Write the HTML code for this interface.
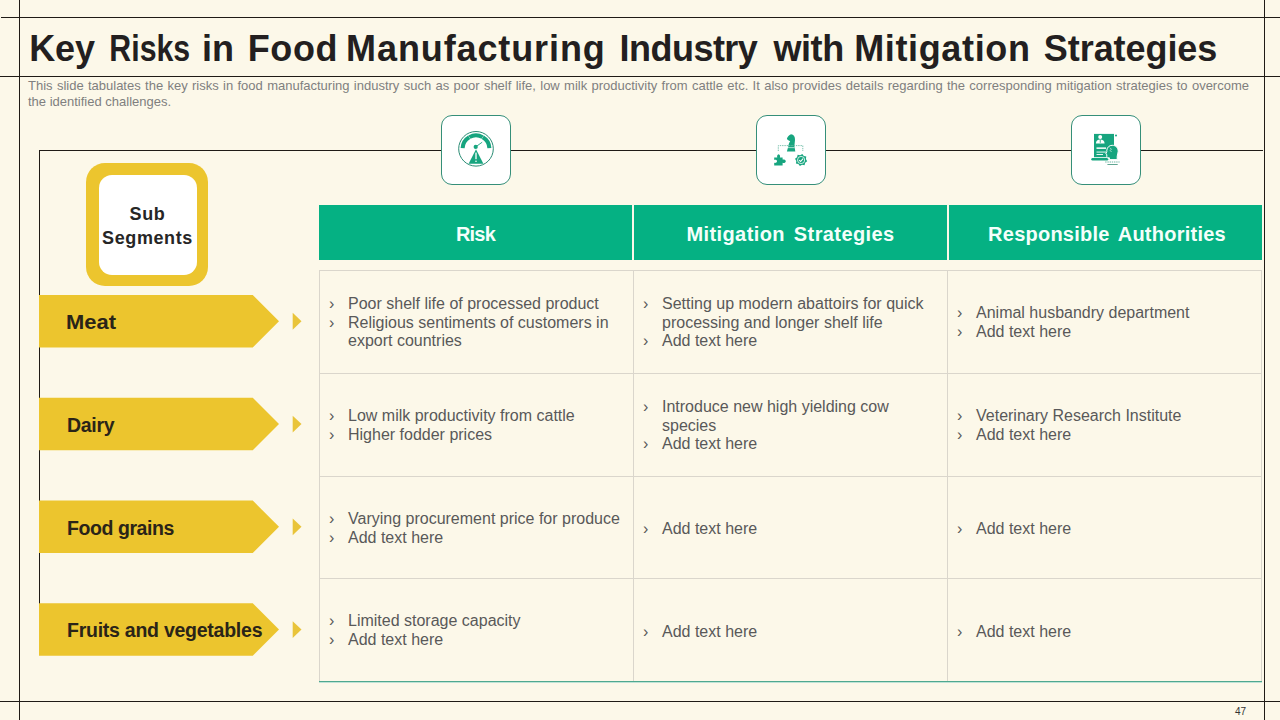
<!DOCTYPE html>
<html>
<head>
<meta charset="utf-8">
<style>
*{margin:0;padding:0;box-sizing:border-box;}
html,body{width:1280px;height:720px;overflow:hidden;background:#FCF8E9;}
body{position:relative;font-family:"Liberation Sans",sans-serif;}
.ln{position:absolute;background:#1F1B16;}
.title{position:absolute;left:0;top:25.5px;width:1280px;height:46px;font-size:36px;font-weight:bold;color:#231F20;white-space:nowrap;line-height:46px;}
.title span{position:absolute;top:0;}
.desc{position:absolute;left:28px;top:78px;width:1221px;font-size:13px;color:#7F7F7F;line-height:15.5px;}
.desc .l1{text-align:justify;text-align-last:justify;white-space:nowrap;}
.pg{position:absolute;left:1235px;top:706px;font-size:10px;color:#333;}
.iconbox{position:absolute;top:115px;width:70px;height:70px;border:1.3px solid #358F79;border-radius:11px;background:#FFFFFF;}
.iconbox svg{position:absolute;left:0;top:0;}
.hdr{position:absolute;top:205px;height:55px;padding-top:4px;background:#05B183;color:#F4FFFB;font-weight:bold;font-size:20px;display:flex;align-items:center;justify-content:center;white-space:nowrap;}
.cell{position:absolute;display:flex;align-items:center;color:#595959;font-size:16px;line-height:18.9px;padding-top:2px;}
.cell ul{list-style:none;}
.cell li{position:relative;padding-left:29px;}
.cell li:before{content:"\203A";position:absolute;left:10px;top:0;}
.vl{position:absolute;background:#DAD6CC;}
.bar{position:absolute;left:39px;width:240px;height:52.5px;}
.bar span{position:absolute;left:28px;top:1px;line-height:52.5px;font-size:19.5px;font-weight:bold;color:#2A2418;white-space:nowrap;}
.tri{position:absolute;width:0;height:0;border-top:8.5px solid transparent;border-bottom:8.5px solid transparent;border-left:9px solid #E9C43A;}
.seg{position:absolute;left:86px;top:163px;width:122px;height:123px;background:#ECC52E;border-radius:19px;}
.seg .in{position:absolute;left:12.5px;top:11.5px;width:98px;height:100px;background:#FFFFFF;border-radius:13px;display:flex;align-items:center;justify-content:center;text-align:center;font-size:18px;font-weight:bold;color:#262626;line-height:23.5px;letter-spacing:0.6px;padding-top:4px;}
</style>
</head>
<body>
<!-- frame lines -->
<div class="ln" style="left:1px;top:17px;width:1279px;height:1px;"></div>
<div class="ln" style="left:0;top:76px;width:1280px;height:1px;"></div>
<div class="ln" style="left:0;top:701px;width:1280px;height:1px;"></div>
<div class="ln" style="left:19px;top:0;width:1px;height:720px;"></div>
<div class="ln" style="left:1264px;top:0;width:1px;height:720px;"></div>
<div class="ln" style="left:39px;top:150px;width:1224px;height:1px;"></div>
<div class="ln" style="left:39px;top:150px;width:1px;height:500px;"></div>

<div class="title"><span style="left:29.2px;letter-spacing:-0.12px;">Key</span><span style="left:108.6px;transform:scaleX(0.842);transform-origin:2px 0;">Risks</span><span style="left:201.9px;letter-spacing:0.20px;">in</span><span style="left:247.7px;letter-spacing:0.63px;">Food</span><span style="left:346.1px;letter-spacing:0.89px;">Manufacturing</span><span style="left:619.6px;letter-spacing:-0.54px;">Industry</span><span style="left:773.4px;letter-spacing:-0.40px;">with</span><span style="left:854.2px;letter-spacing:0.64px;">Mitigation</span><span style="left:1043.8px;letter-spacing:-0.06px;">Strategies</span></div>
<div class="desc"><div class="l1">This slide tabulates the key risks in food manufacturing industry such as poor shelf life, low milk productivity from cattle etc. It also provides details regarding the corresponding mitigation strategies to overcome</div><div>the identified challenges.</div></div>


<div class="iconbox" style="left:441px;"></div>
<div class="iconbox" style="left:756px;"></div>
<div class="iconbox" style="left:1071px;"></div>
<svg style="position:absolute;left:0;top:0;" width="1280" height="200"><g fill="#17A57F">
<circle cx="476" cy="148.8" r="17.3" fill="none" stroke="#2A8C74" stroke-width="1"/>
<path d="M491.38,147.99 A15.4,15.4 0 0,0 483.84,135.54 L481.80,138.99 A11.4,11.4 0 0,1 487.38,148.20 Z"/><path d="M483.56,135.38 A15.4,15.4 0 0,0 468.44,135.38 L470.40,138.87 A11.4,11.4 0 0,1 481.60,138.87 Z"/><path d="M468.16,135.54 A15.4,15.4 0 0,0 460.62,147.99 L464.62,148.20 A11.4,11.4 0 0,1 470.20,138.99 Z"/>
<circle cx="475.7" cy="146.9" r="2.1"/>
<line x1="475.7" y1="146.9" x2="482.2" y2="142.2" stroke="#17A57F" stroke-width="0.9"/>
<polygon points="476,149.3 483.4,163.8 468.6,163.8"/>
<rect x="475.35" y="152.6" width="1.3" height="6.6" fill="#FFFFFF"/>
<rect x="475.35" y="160.6" width="1.3" height="1.4" fill="#FFFFFF"/>
</g><g fill="#17A57F">
<path d="M791,134.2 C793.8,134.6 795.2,136.8 795,140 L794.4,146 L795.3,151.4 L786.9,151.4 L788.4,146 C788.6,144 789.2,142.6 790.2,141.2 C789.4,140.6 788.2,140.2 787.5,139.8 L786.9,138.4 C787.6,136.8 789,135.2 791,134.2 Z"/>
<rect x="787.6" y="147.3" width="7" height="0.8" fill="#FFFFFF" opacity="0.8"/>
<path d="M778.3,151 L778.3,145.6 L802.8,145.6 L802.8,151" fill="none" stroke="#6DBBA6" stroke-width="0.9" stroke-dasharray="1.4,0.9"/>
<path d="M774.2,157.5 L777.3,157.5 C776.8,156.6 777.2,154.2 778.6,154.2 C780,154.2 780.4,156.6 779.9,157.5 L782.6,157.5 L782.6,159.6 C783.4,159.1 785.8,159.4 785.8,161.2 C785.8,163 783.4,163.2 782.6,162.7 L782.6,165.6 L774.2,165.6 L774.2,162.8 C775.2,163.1 777,162.8 777,161.3 C777,159.8 775.2,159.5 774.2,159.9 Z"/>
<polygon points="807.18,161.21 805.17,162.72 804.54,165.16 802.06,164.81 799.89,166.08 798.38,164.07 795.94,163.44 796.29,160.96 795.02,158.79 797.03,157.28 797.66,154.84 800.14,155.19 802.31,153.92 803.82,155.93 806.26,156.56 805.91,159.04" fill="#17A57F"/><circle cx="801.1" cy="160" r="3.6" fill="none" stroke="#FFFFFF" stroke-width="0.8"/><path d="M799.2,160.1 L800.6,161.5 L803.1,158.6" fill="none" stroke="#FFFFFF" stroke-width="1.1"/></g><g fill="#17A57F">
<rect x="1094" y="133.9" width="20" height="23.3"/>
<circle cx="1116" cy="135.6" r="1" />
<rect x="1091.3" y="158" width="17" height="2.4" rx="1.2"/>
<circle cx="1100.2" cy="136.9" r="2" fill="#FFFFFF"/>
<path d="M1095.9,143.6 C1095.9,140.9 1097.6,139.6 1100.2,139.6 C1102.8,139.6 1104.6,140.9 1104.6,143.6 Z" fill="#FFFFFF"/>
<rect x="1099.8" y="139.6" width="0.8" height="3.2" fill="#17A57F"/>
<rect x="1096.5" y="147.4" width="9.5" height="1.5" fill="#FFFFFF"/>
<rect x="1096.5" y="151.6" width="9.5" height="0.9" fill="#FFFFFF"/>
<rect x="1096.5" y="154.1" width="6.5" height="0.9" fill="#FFFFFF"/>
<path d="M1112.2,145.3 C1115.8,145.3 1118.2,147.8 1118.2,151.2 C1118.2,153.4 1117.2,154.6 1117.2,156.3 L1117.2,159.6 L1109.4,159.6 L1109.4,157.8 L1107.6,157.8 C1107,157.8 1106.8,157.4 1106.8,156.8 L1106.8,154.6 L1105.8,153.9 L1106.8,151.6 L1106.8,150.2 C1107.2,147.2 1109.3,145.3 1112.2,145.3 Z" stroke="#FFFFFF" stroke-width="1"/>
<path d="M1110,147.8 L1111.4,149.2 L1110.2,150.6 L1111.6,152" fill="none" stroke="#FFFFFF" stroke-width="0.6"/>
<path d="M1105.2,162 L1119.6,162" stroke="#5FAF98" stroke-width="0.9" stroke-dasharray="1.4,0.8"/>
<rect x="1107.4" y="164" width="10.3" height="0.9" fill="#4F9C86"/>
</g></svg>

<div class="hdr" style="left:319px;width:313px;letter-spacing:-0.8px;">Risk</div>
<div class="hdr" style="left:634px;width:313px;letter-spacing:0.40px;word-spacing:3px;">Mitigation Strategies</div>
<div class="hdr" style="left:949px;width:313px;letter-spacing:0.24px;word-spacing:3px;padding-left:3px;">Responsible Authorities</div>

<!-- grid -->
<div class="vl" style="left:319px;top:270px;width:943px;height:1px;"></div>
<div class="vl" style="left:319px;top:373px;width:943px;height:1px;"></div>
<div class="vl" style="left:319px;top:476px;width:943px;height:1px;"></div>
<div class="vl" style="left:319px;top:578px;width:943px;height:1px;"></div>
<div class="vl" style="left:319px;top:270px;width:1px;height:411px;"></div>
<div class="vl" style="left:633px;top:270px;width:1px;height:411px;"></div>
<div class="vl" style="left:947px;top:270px;width:1px;height:411px;"></div>
<div class="vl" style="left:1261px;top:270px;width:1px;height:411px;"></div>
<div style="position:absolute;left:319px;top:681px;width:943px;height:1px;background:#4FA88F;"></div><div style="position:absolute;left:319px;top:682px;width:943px;height:1px;background:#BFE3D6;"></div>

<div class="cell" style="left:319px;top:271px;width:314px;height:102px;"><ul><li>Poor shelf life of processed product</li><li>Religious sentiments of customers in export countries</li></ul></div>
<div class="cell" style="left:633px;top:271px;width:314px;height:102px;"><ul><li>Setting up modern abattoirs for quick processing and longer shelf life</li><li>Add text here</li></ul></div>
<div class="cell" style="left:947px;top:271px;width:314px;height:102px;"><ul><li>Animal husbandry department</li><li>Add text here</li></ul></div>

<div class="cell" style="left:319px;top:374px;width:314px;height:102px;"><ul><li>Low milk productivity from cattle</li><li>Higher fodder prices</li></ul></div>
<div class="cell" style="left:633px;top:374px;width:314px;height:102px;"><ul><li>Introduce new high yielding cow species</li><li>Add text here</li></ul></div>
<div class="cell" style="left:947px;top:374px;width:314px;height:102px;"><ul><li>Veterinary Research Institute</li><li>Add text here</li></ul></div>

<div class="cell" style="left:319px;top:477px;width:314px;height:101px;"><ul><li>Varying procurement price for produce</li><li>Add text here</li></ul></div>
<div class="cell" style="left:633px;top:477px;width:314px;height:101px;padding-top:4px;"><ul><li>Add text here</li></ul></div>
<div class="cell" style="left:947px;top:477px;width:314px;height:101px;padding-top:4px;"><ul><li>Add text here</li></ul></div>

<div class="cell" style="left:319px;top:579px;width:314px;height:102px;"><ul><li>Limited storage capacity</li><li>Add text here</li></ul></div>
<div class="cell" style="left:633px;top:579px;width:314px;height:102px;padding-top:4px;"><ul><li>Add text here</li></ul></div>
<div class="cell" style="left:947px;top:579px;width:314px;height:102px;padding-top:4px;"><ul><li>Add text here</li></ul></div>

<!-- sub segments -->
<div class="seg"><div class="in">Sub<br>Segments</div></div>

<svg style="position:absolute;left:0;top:0;" width="320" height="720">
<polygon points="39,295 252.75,295 279,321.25 252.75,347.50 39,347.50" fill="#ECC52E"/>
<polygon points="39,397.8 252.75,397.8 279,424.05 252.75,450.30 39,450.30" fill="#ECC52E"/>
<polygon points="39,500.6 252.75,500.6 279,526.85 252.75,553.10 39,553.10" fill="#ECC52E"/>
<polygon points="39,603.3 252.75,603.3 279,629.55 252.75,655.80 39,655.80" fill="#ECC52E"/>
<polygon points="292.7,312.85 301.5,321.25 292.7,329.65" fill="#E9C43A"/>
<polygon points="292.7,415.65 301.5,424.05 292.7,432.45" fill="#E9C43A"/>
<polygon points="292.7,518.45 301.5,526.85 292.7,535.25" fill="#E9C43A"/>
<polygon points="292.7,621.15 301.5,629.55 292.7,637.95" fill="#E9C43A"/>
</svg>
<div class="bar" style="top:295px;"><span style="transform:scaleX(1.125);transform-origin:0 0;left:26.6px;">Meat</span></div>
<div class="bar" style="top:397.8px;"><span style="letter-spacing:-0.3px">Dairy</span></div>
<div class="bar" style="top:500.6px;"><span style="letter-spacing:-0.43px">Food grains</span></div>
<div class="bar" style="top:603.3px;"><span style="letter-spacing:-0.25px">Fruits and vegetables</span></div>

<div class="pg">47</div>
</body>
</html>
